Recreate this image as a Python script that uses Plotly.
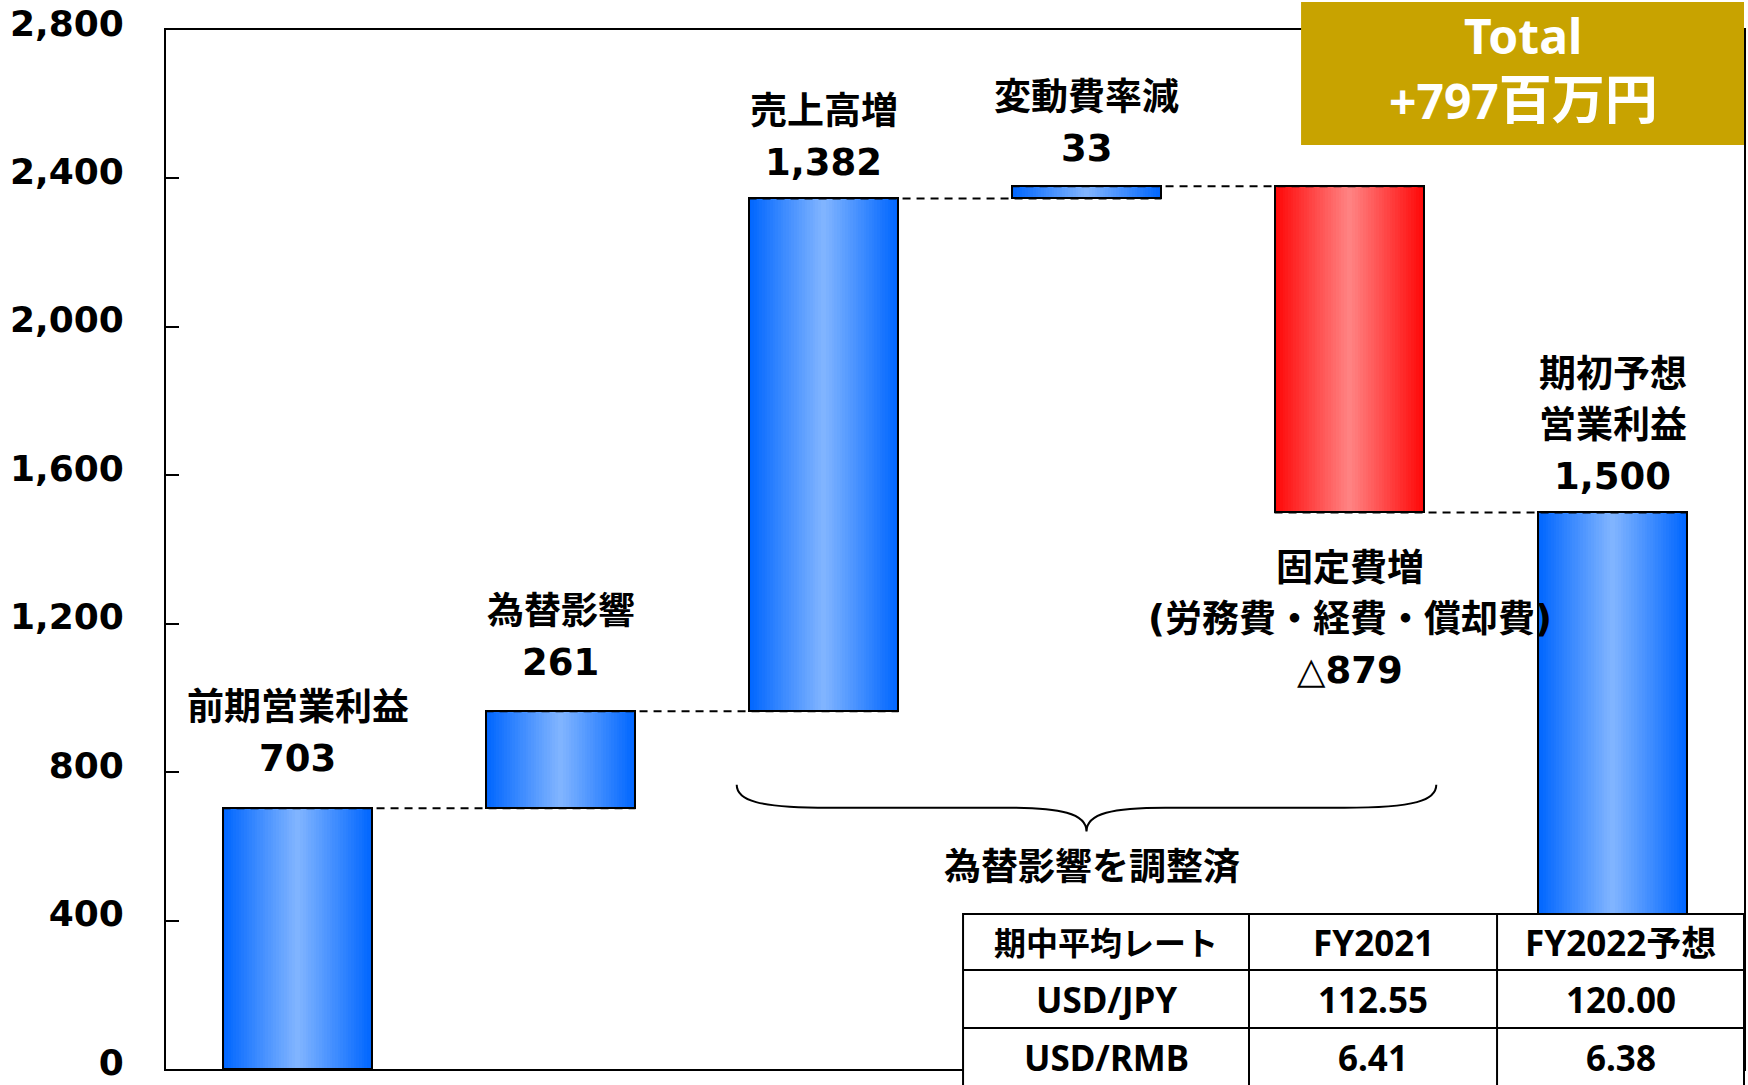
import plotly.graph_objects as go

# waterfall data (百万円)
steps = ['前期営業利益', '為替影響', '売上高増', '変動費率減', '固定費増', '期初予想営業利益']
values = [703, 261, 1382, 33, -879, 1500]
measures = ['absolute', 'relative', 'relative', 'relative', 'relative', 'total']
label_lines = [
    ['前期営業利益', '703'],
    ['為替影響', '261'],
    ['売上高増', '1,382'],
    ['変動費率減', '33'],
    ['固定費増', '(労務費・経費・償却費)', '△879'],
    ['期初予想', '営業利益', '1,500'],
]
y_ticks = [0, 400, 800, 1200, 1600, 2000, 2400, 2800]
total_title = 'Total'
total_value = '+797'
total_unit = '百万円'
brace_text = '為替影響を調整済'

# rate table
rate_header = ['期中平均レート', 'FY2021', 'FY2022予想']
rate_pairs = ['USD/JPY', 'USD/RMB']
rate_fy2021 = ['112.55', '6.41']
rate_fy2022 = ['120.00', '6.38']

# --- waterfall geometry from the values
bases, heights, ends = [], [], []
run = 0
for v, m in zip(values, measures):
    if m == 'absolute':
        b, h, run = 0, v, v
    elif m == 'total':
        b, h = 0, run
    else:
        b, h = (run, v) if v >= 0 else (run + v, -v)
        run += v
    bases.append(b)
    heights.append(h)
    ends.append(run)

xs = list(range(len(values)))
W = 0.57
BLUE_EDGE, BLUE_MID = (0, 102, 255), (128, 180, 255)
RED_EDGE, RED_MID = (255, 8, 8), (255, 130, 130)


def mix(a, b, t):
    return 'rgb(%d,%d,%d)' % tuple(round(a[i] + (b[i] - a[i]) * t) for i in range(3))


fig = go.Figure()

# horizontal gradient built from overlaid bars of shrinking width
N = 28
for k in range(N):
    t = k / (N - 1)
    cols = [mix(RED_EDGE, RED_MID, t) if (m == 'relative' and v < 0) else mix(BLUE_EDGE, BLUE_MID, t)
            for v, m in zip(values, measures)]
    fig.add_trace(go.Bar(x=xs, y=heights, base=bases, width=[W * (1 - k / N)] * len(xs),
                         marker=dict(color=cols, line=dict(width=0)), hoverinfo='skip', showlegend=False))

# outlines
fig.add_trace(go.Bar(x=xs, y=heights, base=bases, width=[W] * len(xs),
                     marker=dict(color='rgba(0,0,0,0)', line=dict(color='black', width=2)),
                     showlegend=False))

# dashed connectors
cx, cy = [], []
for i in range(len(values) - 1):
    cx += [i - W / 2, i + 1 + W / 2, None]
    cy += [ends[i], ends[i], None]
fig.add_trace(go.Scatter(x=cx, y=cy, mode='lines', line=dict(color='black', width=2, dash='8px,6px'),
                         hoverinfo='skip', showlegend=False))

LBL = dict(family='DejaVu Sans, Noto Sans CJK JP', size=37, color='black', weight='bold')
LINE = 51
first_shift = [50, 49, 36, 38, -56, 36]
for i, lines in enumerate(label_lines):
    n = len(lines)
    if values[i] < 0 and measures[i] == 'relative':
        anchor = bases[i]
        for j, s in enumerate(lines):
            fig.add_annotation(x=i, y=anchor, text=s, showarrow=False, font=LBL, xanchor='center',
                               yanchor='middle', yshift=first_shift[i] - j * LINE)
    else:
        anchor = bases[i] + heights[i]
        for j, s in enumerate(lines):
            fig.add_annotation(x=i, y=anchor, text=s, showarrow=False, font=LBL, xanchor='center',
                               yanchor='middle', yshift=first_shift[i] + (n - 1 - j) * LINE)

# brace under the middle steps
x0, xc, x1 = 1.67, 3.0, 4.33
yt, ym, yb = 766, 704, 640
brace = (f'M {x0},{yt} C {x0},{ym + 20} {x0 + 0.08},{ym} {x0 + 0.35},{ym} '
         f'L {xc - 0.3},{ym} C {xc - 0.1},{ym} {xc},{ym - 15} {xc},{yb} '
         f'C {xc},{ym - 15} {xc + 0.1},{ym} {xc + 0.3},{ym} '
         f'L {x1 - 0.35},{ym} C {x1 - 0.08},{ym} {x1},{ym + 20} {x1},{yt}')
fig.add_shape(type='path', path=brace, xref='x', yref='y', line=dict(color='black', width=2))
fig.add_annotation(x=3.02, y=543, text=brace_text, showarrow=False, font=LBL,
                   xanchor='center', yanchor='middle')

# plot area in pixels: top 30, bottom 1069
PH = 1039.0


def py(px):
    return (1069 - px) / PH


# Total box
fig.add_shape(type='rect', xref='paper', yref='paper', x0=0.7193, x1=1.0, y0=py(145), y1=py(2),
              fillcolor='#C8A300', line=dict(width=0), layer='above')
BOX = dict(family='Noto Sans, Noto Sans CJK JP', size=48, color='white', weight='bold')
box_lines = [total_title, total_value + '<span style="font-size:53px">' + total_unit + '</span>']
for txt, ty in zip(box_lines, [py(36), py(99)]):
    fig.add_annotation(x=0.86, y=ty, xref='paper', yref='paper', text=txt, showarrow=False,
                       font=BOX, xanchor='center', yanchor='middle')

# rate table
col_x = [0.5051, 0.6863, 0.8435, 1.0]
row_y = [py(914), py(970), py(1028), py(1100)]
fig.add_shape(type='rect', xref='paper', yref='paper', x0=col_x[0], x1=col_x[-1], y0=row_y[-1], y1=row_y[0],
              fillcolor='white', line=dict(color='black', width=2), layer='above')
for cxp in col_x[1:-1]:
    fig.add_shape(type='line', xref='paper', yref='paper', x0=cxp, x1=cxp, y0=row_y[-1], y1=row_y[0],
                  line=dict(color='black', width=2), layer='above')
for ryp in row_y[1:-1]:
    fig.add_shape(type='line', xref='paper', yref='paper', x0=col_x[0], x1=col_x[-1], y0=ryp, y1=ryp,
                  line=dict(color='black', width=2), layer='above')
rows = [rate_header] + [[p, a, b] for p, a, b in zip(rate_pairs, rate_fy2021, rate_fy2022)]
row_mid = [py(942), py(999), py(1057)]
for r, row in enumerate(rows):
    for c, s in enumerate(row):
        size = 32 if (r == 0 and c == 0) else 35
        fig.add_annotation(x=(col_x[c] + col_x[c + 1]) / 2, y=row_mid[r], xref='paper', yref='paper',
                           text=s, showarrow=False, xanchor='center', yanchor='middle',
                           font=dict(family='Noto Sans, Noto Sans CJK JP', size=size,
                                     color='black', weight='bold'))

fig.update_layout(
    width=1748, height=1085,
    margin=dict(l=166, r=4, t=30, b=16),
    plot_bgcolor='white', paper_bgcolor='white',
    barmode='overlay', bargap=0,
    showlegend=False,
)
fig.update_xaxes(range=[-0.5, 5.5], showticklabels=False, showgrid=False, zeroline=False,
                 showline=True, mirror=True, linecolor='black', linewidth=2, ticks='',
                 automargin=False)
fig.update_yaxes(range=[0, 2800], tickvals=y_ticks, tickformat=',', showgrid=False, zeroline=False,
                 showline=True, mirror=True, linecolor='black', linewidth=2,
                 ticks='inside', ticklen=13, tickwidth=1.5, tickcolor='black',
                 ticklabelstandoff=33, ticklabeloverflow='allow', ticklabelshift=-7, automargin=False,
                 tickfont=dict(family='DejaVu Sans', size=36, color='black', weight='bold'))

fig.write_html('out.html', config={'displayModeBar': False},
               post_script="document.body.style.margin='0px';")
